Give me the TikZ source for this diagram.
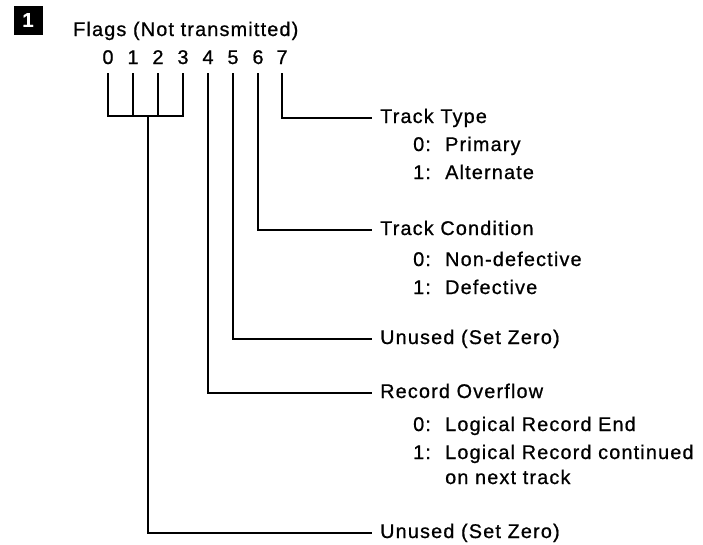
\documentclass[tikz,border=0pt]{standalone}
\usepackage{fontspec}
\setmainfont[LetterSpace=6,FakeBold=0.8]{Liberation Sans}
\usetikzlibrary{positioning}

\begin{document}
\begin{tikzpicture}[x=1pt,y=-1pt,
  txt/.style={font=\fontsize{19.8pt}{26pt}\selectfont},
  bit/.style={txt,anchor=base,inner xsep=0pt,inner ysep=9pt},
  lbl/.style={txt,anchor=west,inner xsep=8pt,inner ysep=0pt,text height=14pt,text depth=4pt},
  item/.style={txt,anchor=base west,inner sep=0pt},
  wire/.style={line width=2.6pt}]
\useasboundingbox (0,0) rectangle (703,544);
% heading
\node[fill=black,text=white,font=\bfseries\fontsize{20pt}{20pt}\selectfont,
  minimum width=29pt,minimum height=29pt,inner sep=0pt] (num) at (28,20) {1};
\node[txt,anchor=base west,inner sep=0pt] (title) at (73,36) {Flags (Not transmitted)};
% bit numbers
\foreach \b/\x in {0/108,1/133,2/158,3/183,4/208,5/233,6/258,7/282}
  \node[bit] (b\b) at (\x,64) {\b};
% labels
\node[lbl] (tt) at (372,118) {Track Type};
\node[item] (tt0) at (413,151) {\makebox[32pt][l]{0:}Primary};
\node[item] (tt1) at (413,179) {\makebox[32pt][l]{1:}Alternate};
\node[lbl] (tc) at (372,230) {Track Condition};
\node[item] (tc0) at (413,266) {\makebox[32pt][l]{0:}Non-defective};
\node[item] (tc1) at (413,294) {\makebox[32pt][l]{1:}Defective};
\node[lbl] (uz1) at (372,339) {Unused (Set Zero)};
\node[lbl] (ro) at (372,393) {Record Overflow};
\node[item] (ro0) at (413,431) {\makebox[32pt][l]{0:}Logical Record End};
\node[item] (ro1) at (413,459) {\makebox[32pt][l]{1:}Logical Record continued};
\node[item] (ro1b) at (445,484) {on next track};
\node[lbl] (uz2) at (372,533) {Unused (Set Zero)};
% connectors
\draw[wire] (b7.south) |- (tt.west);
\draw[wire] (b6.south) |- (tc.west);
\draw[wire] (b5.south) |- (uz1.west);
\draw[wire] (b4.south) |- (ro.west);
\coordinate (jn) at (148,116);
\draw[wire] (b0.south) |- (b3.south |- jn) -- (b3.south);
\draw[wire] (b1.south) -- (b1.south |- jn);
\draw[wire] (b2.south) -- (b2.south |- jn);
\draw[wire] (jn) |- (uz2.west);
\end{tikzpicture}
\end{document}
